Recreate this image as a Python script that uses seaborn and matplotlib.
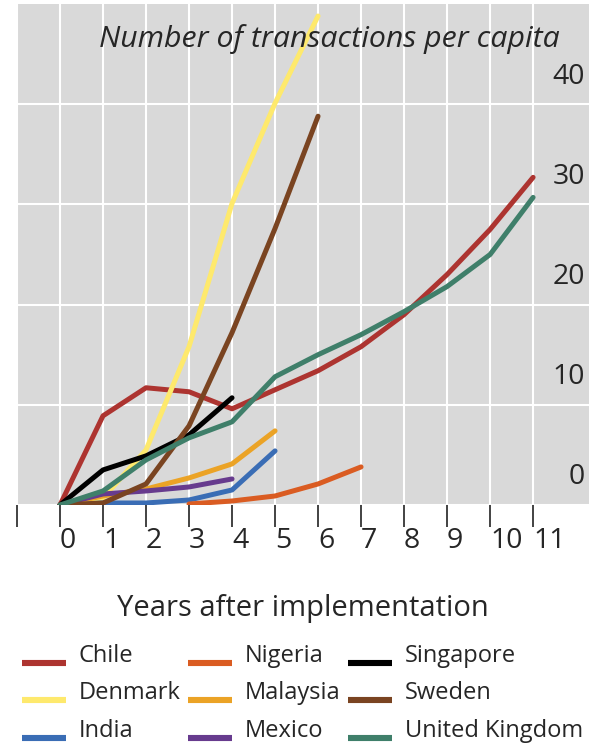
import numpy as np
import pandas as pd
import matplotlib
matplotlib.use("Agg")
import matplotlib.pyplot as plt
from matplotlib.lines import Line2D
from matplotlib.legend_handler import HandlerLine2D
import seaborn as sns

# ---- data ----
countries = ["Chile", "Denmark", "India", "Nigeria", "Malaysia", "Mexico",
             "Singapore", "Sweden", "United Kingdom"]
years_chile = [0, 1, 2, 3, 4, 5, 6, 7, 8, 9, 10, 11]
chile = [0, 8.9, 11.7, 11.3, 9.6, 11.5, 13.4, 15.8, 19.0, 23.0, 27.5, 32.7]
years_denmark = [0, 1, 2, 3, 4, 5, 6]
denmark = [0, 0.7, 5.5, 15.8, 30.1, 40.1, 48.8]
years_india = [0, 1, 2, 3, 4, 5]
india = [0, 0.2, 0.2, 0.5, 1.5, 5.4]
years_nigeria = [3, 4, 5, 6, 7]
nigeria = [0.1, 0.4, 0.9, 2.1, 3.8]
years_malaysia = [0, 1, 2, 3, 4, 5]
malaysia = [0, 0.9, 1.6, 2.7, 4.1, 7.4]
years_mexico = [0, 1, 2, 3, 4]
mexico = [0, 1.1, 1.4, 1.8, 2.6]
years_singapore = [0, 1, 2, 3, 4]
singapore = [0, 3.5, 4.9, 7.0, 10.7]
years_sweden = [0, 1, 2, 3, 4, 5, 6]
sweden = [0, 0.2, 2.1, 7.9, 17.2, 27.6, 38.8]
years_uk = [0, 1, 2, 3, 4, 5, 6, 7, 8, 9, 10, 11]
uk = [0, 1.4, 4.5, 6.7, 8.3, 12.8, 15.0, 17.0, 19.3, 21.8, 25.0, 30.7]

x_ticks = list(range(0, 12))
y_ticks = [0, 10, 20, 30, 40]
y_tick_labels = ["0", "10", "20", "30", "40"]
title = "Number of transactions per capita"
xlabel = "Years after implementation"

colors = {
    "Chile": "#AD3430",
    "Denmark": "#FEE96D",
    "India": "#3A6DB5",
    "Nigeria": "#DA5C22",
    "Malaysia": "#EBA326",
    "Mexico": "#673B8E",
    "Singapore": "#000000",
    "Sweden": "#7A4421",
    "United Kingdom": "#3F7F6A",
}

series = {
    "Chile": (years_chile, chile),
    "Denmark": (years_denmark, denmark),
    "India": (years_india, india),
    "Nigeria": (years_nigeria, nigeria),
    "Malaysia": (years_malaysia, malaysia),
    "Mexico": (years_mexico, mexico),
    "Singapore": (years_singapore, singapore),
    "Sweden": (years_sweden, sweden),
    "United Kingdom": (years_uk, uk),
}
frames = [pd.DataFrame({"year": yrs, "value": vals, "country": c})
          for c, (yrs, vals) in series.items()]
df = pd.concat(frames, ignore_index=True)

# ---- style ----
sns.set_style("white")
plt.rcParams["font.family"] = ["Open Sans", "DejaVu Sans"]

W, H = 589, 745
fig = plt.figure(figsize=(W / 100, H / 100), dpi=100)
ax = fig.add_axes([17 / W, 1 - 505 / H, 572 / W, 501 / H])
ax.set_facecolor("#D9D9D9")

sns.lineplot(data=df, x="year", y="value", hue="country", hue_order=countries,
             palette=colors, linewidth=3.6, sort=False, ax=ax,
             solid_capstyle="round", legend=True)

ax.set_xlim(-1, 12.3)
ax.set_ylim(0, 50)

for s in ax.spines.values():
    s.set_visible(False)

# x axis
ax.set_xticks(list(range(-1, 12)))
ax.set_xticklabels([""] + [str(v) for v in x_ticks])
plt.setp(ax.get_xticklabels(), ha="left")
ax.tick_params(axis="x", which="major", direction="out", length=16, width=1.2,
               color="#222222", labelsize=20.5, pad=0, bottom=True)

# y axis: gridlines at major ticks, labels (shifted upward) via minor ticks
ax.yaxis.set_ticks_position("right")
ax.set_yticks(y_ticks)
ax.set_yticklabels([""] * len(y_ticks))
ax.set_yticks([v + 3.1 for v in y_ticks], labels=y_tick_labels, minor=True)
ax.tick_params(axis="y", which="both", length=0, left=False, right=False,
               labelleft=False, labelright=True)
ax.tick_params(axis="y", which="minor", labelsize=20.5, pad=-3)
plt.setp(ax.get_yticklabels(minor=True), ha="right")

ax.grid(True, which="major", color="white", linewidth=1.5)
ax.set_axisbelow(True)

ax.set_xlabel(xlabel, fontsize=21, labelpad=28)
ax.set_ylabel("")

ax.text((560 - 17) / 572, (505 - 39) / 501, title, transform=ax.transAxes,
        ha="right", va="center", fontsize=21.8, style="italic")


# legend: handles sit a little lower than the label text, as in the reference
class LowHandler(HandlerLine2D):
    def create_artists(self, legend, orig_handle, xdescent, ydescent,
                       width, height, fontsize, trans):
        return super().create_artists(legend, orig_handle, xdescent,
                                      ydescent + 0.75 * fontsize, width,
                                      height, fontsize, trans)


handles, labels = ax.get_legend_handles_labels()
ax.get_legend().remove()
for h in handles:
    h.set_linewidth(4.4)
    h.set_solid_capstyle("butt")
fig.legend(handles, labels, ncol=3, loc="upper left",
           bbox_to_anchor=(22 / W, 1 - 644 / H), frameon=False, fontsize=17,
           handlelength=1.85, handletextpad=0.55, columnspacing=0.33,
           labelspacing=0.57, borderpad=0, borderaxespad=0,
           handler_map={Line2D: LowHandler()})

fig.savefig("out.png", dpi=100)
